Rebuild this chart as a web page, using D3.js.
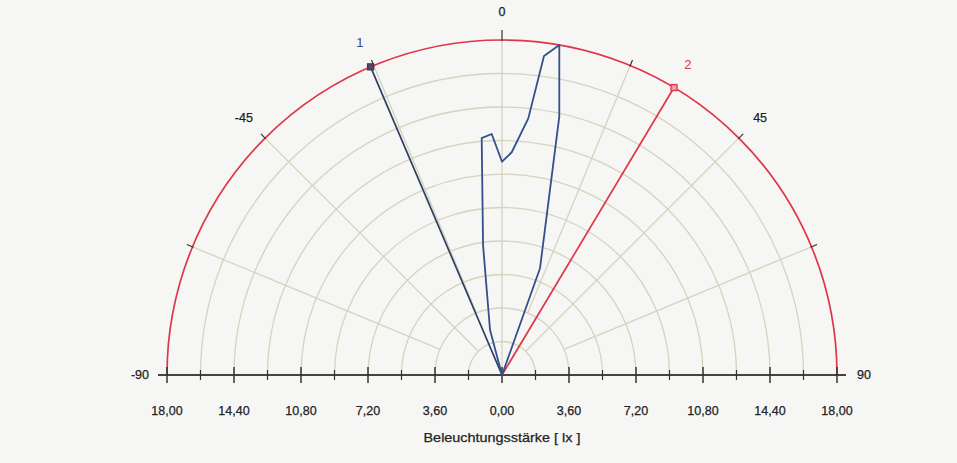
<!DOCTYPE html>
<html>
<head>
<meta charset="utf-8">
<script src="https://cdn.jsdelivr.net/npm/d3@7"></script>
<style>
  html, body { margin: 0; padding: 0; background: #f6f6f4; }
  svg { display: block; }
  text { font-family: "Liberation Sans", Arial, sans-serif; }
</style>
</head>
<body>
<svg id="chart" width="957" height="463"></svg>
<script>
// ---- data ----
const curveAngles = [-17.5, -14.9, -8.3, -4.9, -2.45, 0, 2.5, 5.85, 7.5, 9.85, 12.5, 19.6, 22.5];
const curveValues = [0, 2.5, 7.05, 12.77, 12.96, 11.46, 11.98, 13.86, 17.29, 18.0, 14.22, 6.09, 0];
const cursorNames = ["1", "2"];
const cursorAngles = [-23.1, 30.9];
const cursorValues = [18, 18];
const ringValues = [1.8, 3.6, 5.4, 7.2, 9.0, 10.8, 12.6, 14.4, 16.2];
const spokeAngles = [-67.5, -45, -22.5, 0, 22.5, 45, 67.5];
const spokeStart = [3.6, 1.8, 3.6, 0, 3.6, 1.8, 3.6];
const angleTickAngles = [-67.5, -45, -22.5, 0, 22.5, 45, 67.5];
const angleLabelValues = [-90, -45, 0, 45, 90];
const axisMajorTicks = [-18, -14.4, -10.8, -7.2, -3.6, 0, 3.6, 7.2, 10.8, 14.4, 18];
const axisMinorTicks = [-16.2, -12.6, -9, -5.4, -1.8, 1.8, 5.4, 9, 12.6, 16.2];
const axisTitle = "Beleuchtungsstärke [ lx ]";
const maxValue = 18;

// ---- layout ----
const cx = 502, cy = 375, R = 335;
const svg = d3.select("#chart");
const rScale = d3.scaleLinear().domain([0, maxValue]).range([0, R]);
const xScale = d3.scaleLinear().domain([-maxValue, maxValue]).range([cx - R, cx + R]);
const rad = a => a * Math.PI / 180;
const px = (a, r) => cx + r * Math.sin(rad(a));
const py = (a, r) => cy - r * Math.cos(rad(a));

const g = svg.append("g");

// grid rings
const semi = r => `M${cx - r},${cy} A${r},${r} 0 0 1 ${cx + r},${cy}`;
g.selectAll("path.ring").data(ringValues).enter().append("path")
  .attr("class", "ring")
  .attr("d", d => semi(rScale(d)))
  .attr("fill", "none").attr("stroke", "#d6d3bf").attr("stroke-width", 1.3);

// spokes
g.selectAll("line.spoke").data(spokeAngles).enter().append("line")
  .attr("x1", (d, i) => px(d, rScale(spokeStart[i])))
  .attr("y1", (d, i) => py(d, rScale(spokeStart[i])))
  .attr("x2", d => px(d, R)).attr("y2", d => py(d, R))
  .attr("stroke", "#d6d3bf").attr("stroke-width", 1.3);

// outer red circle
g.append("path").attr("d", semi(R)).attr("fill", "none")
  .attr("stroke", "#e0354a").attr("stroke-width", 1.7);

// outer angle ticks
g.selectAll("line.atick").data(angleTickAngles).enter().append("line")
  .attr("x1", d => px(d, R - 1)).attr("y1", d => py(d, R - 1))
  .attr("x2", d => px(d, R + (d === 0 ? 10 : 6))).attr("y2", d => py(d, R + (d === 0 ? 10 : 6)))
  .attr("stroke", "#333").attr("stroke-width", 1.2);

// angle labels
g.selectAll("text.alab").data(angleLabelValues).enter().append("text")
  .attr("x", d => Math.abs(d) === 90 ? px(d, R + 27) : px(d, R + 30))
  .attr("y", d => Math.abs(d) === 90 ? cy : py(d, R + 28))
  .attr("text-anchor", "middle").attr("dominant-baseline", "central")
  .attr("font-size", 12.5).attr("fill", "#222").attr("stroke", "#222").attr("stroke-width", 0.25)
  .text(d => d);

// horizontal axis
g.append("line").attr("x1", cx - R - 9).attr("x2", cx + R + 9)
  .attr("y1", cy).attr("y2", cy).attr("stroke", "#444").attr("stroke-width", 2);
g.selectAll("line.maj").data(axisMajorTicks).enter().append("line")
  .attr("x1", d => xScale(d)).attr("x2", d => xScale(d))
  .attr("y1", cy - 8).attr("y2", cy + 8).attr("stroke", "#333").attr("stroke-width", 1.5);
g.selectAll("line.min").data(axisMinorTicks).enter().append("line")
  .attr("x1", d => xScale(d)).attr("x2", d => xScale(d))
  .attr("y1", cy - 5).attr("y2", cy + 5).attr("stroke", "#333").attr("stroke-width", 1.2);
const fmt = d => d3.format(".2f")(Math.abs(d)).replace(".", ",");
g.selectAll("text.xlab").data(axisMajorTicks).enter().append("text")
  .attr("x", d => xScale(d)).attr("y", 415)
  .attr("text-anchor", "middle").attr("font-size", 12.5).attr("fill", "#222")
  .attr("stroke", "#222").attr("stroke-width", 0.25)
  .text(fmt);
g.append("text").attr("x", cx).attr("y", 442).attr("text-anchor", "middle")
  .attr("font-size", 13.5).attr("fill", "#222").attr("stroke", "#222").attr("stroke-width", 0.25)
  .attr("textLength", 157).attr("lengthAdjust", "spacingAndGlyphs")
  .text(axisTitle);

// cursors
const cursorColors = ["#2e3f63", "#e0354a"];
cursorAngles.forEach((a, i) => {
  const r = rScale(cursorValues[i]);
  g.append("line").attr("x1", cx).attr("y1", cy).attr("x2", px(a, r)).attr("y2", py(a, r))
    .attr("stroke", cursorColors[i]).attr("stroke-width", 1.7);
  g.append("rect").attr("x", px(a, r) - 3).attr("y", py(a, r) - 3).attr("width", 6).attr("height", 6)
    .attr("fill", i === 0 ? "#6a4058" : "#f2a0a8").attr("stroke", cursorColors[i]).attr("stroke-width", 1.3);
  g.append("text").attr("x", px(a, r + 27)).attr("y", py(a, r + 27))
    .attr("text-anchor", "middle").attr("dominant-baseline", "central")
    .attr("font-size", 13).attr("fill", i === 0 ? "#3a4f80" : "#e0354a").text(cursorNames[i]);
});

// measurement curve
const curveData = curveAngles.map((a, i) => ({ a, v: curveValues[i] }));
const radial = d3.lineRadial().angle(d => rad(d.a)).radius(d => rScale(d.v));
g.append("path").datum(curveData)
  .attr("transform", `translate(${cx},${cy})`)
  .attr("d", radial).attr("fill", "none")
  .attr("stroke", "#34508a").attr("stroke-width", 1.8).attr("stroke-linejoin", "round");
</script>
</body>
</html>
